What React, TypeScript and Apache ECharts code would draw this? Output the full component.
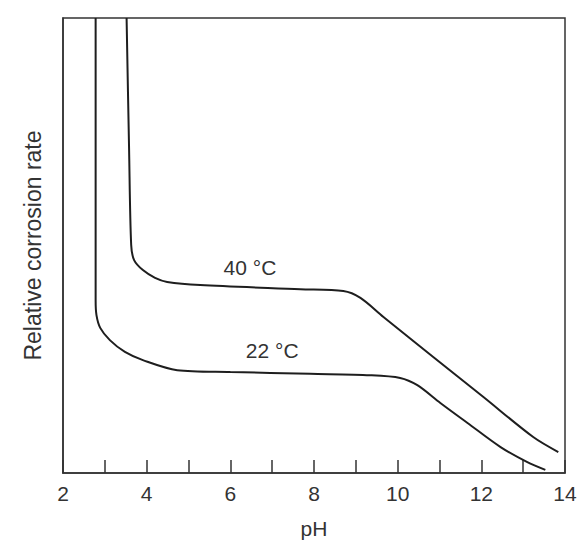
import React, { useEffect, useRef } from "react";
import * as echarts from "echarts";

// pH values and relative corrosion rate (arbitrary units 0-100)
const ph22 = [2.78, 2.78, 2.8, 2.89, 3.12, 3.48, 3.91, 4.73, 6.0, 7.91, 9.34, 10.06, 10.47, 11.02, 11.67, 12.46, 13.1, 13.53];
const rate22 = [100, 38.0, 34.7, 31.9, 29.2, 26.6, 24.8, 22.6, 22.2, 21.8, 21.5, 20.9, 19.3, 15.4, 11.0, 5.7, 2.4, 0.7];

const ph40 = [3.52, 3.58, 3.63, 3.7, 3.91, 4.2, 4.49, 5.28, 7.67, 8.7, 9.11, 9.66, 10.85, 12.05, 13.24, 13.84];
const rate40 = [100, 71.0, 50.1, 46.8, 44.6, 42.9, 42.0, 41.3, 40.4, 40.0, 38.5, 34.3, 25.5, 16.7, 7.9, 4.6];

const seriesNames = ["22 °C", "40 °C"];
const labelPos22 = [7.0, 27.0];
const labelPos40 = [6.47, 45.1];

const xTickLabels = ["2", "4", "6", "8", "10", "12", "14"];

const FONT = "Liberation Sans, Arial, Helvetica, sans-serif";
const INK = "#1e1e1e";

export default function App() {
  const ref = useRef<HTMLDivElement>(null);
  useEffect(() => {
    if (!ref.current) return;
    const chart = echarts.init(ref.current, undefined, { renderer: "svg" });
    const zip = (xs: number[], ys: number[]) => xs.map((x, i) => [x, ys[i]]);
    const mk = (name: string, xs: number[], ys: number[], pos: number[]) => ({
      name,
      type: "line",
      data: zip(xs, ys),
      showSymbol: false,
      smooth: 0.3,
      lineStyle: { color: INK, width: 2 },
      markPoint: {
        symbol: "circle",
        symbolSize: 0,
        label: {
          show: true,
          position: "inside",
          formatter: name,
          color: "#333",
          fontSize: 21,
          fontFamily: FONT,
        },
        data: [{ coord: pos }],
      },
    });
    chart.setOption({
      animation: false,
      backgroundColor: "#ffffff",
      grid: {
        left: 63,
        right: 20,
        top: 18,
        bottom: 76,
        show: true,
        borderColor: "#333",
        borderWidth: 1.5,
      },
      xAxis: {
        type: "value",
        min: 2,
        max: 14,
        interval: 1,
        name: "pH",
        nameLocation: "middle",
        nameGap: 45,
        nameTextStyle: { fontSize: 21, color: "#333", fontFamily: FONT },
        axisLine: { show: true, lineStyle: { color: "#333", width: 1.5 } },
        axisTick: { show: true, inside: true, length: 13, lineStyle: { color: "#333", width: 1.5 } },
        axisLabel: {
          show: true,
          margin: 10,
          fontSize: 21,
          color: "#333",
          fontFamily: FONT,
          showMinLabel: true,
          showMaxLabel: true,
          formatter: (v: number) => {
            const s = String(Math.round(v));
            return xTickLabels.includes(s) ? s : "";
          },
        },
        splitLine: { show: false },
      },
      yAxis: {
        type: "value",
        min: 0,
        max: 100,
        name: "Relative corrosion rate",
        nameLocation: "middle",
        nameGap: 19,
        nameTextStyle: { fontSize: 23, color: "#333", fontFamily: FONT },
        axisLine: { show: true, lineStyle: { color: "#333", width: 1.5 } },
        axisTick: { show: false },
        axisLabel: { show: false },
        splitLine: { show: false },
      },
      series: [
        mk(seriesNames[0], ph22, rate22, labelPos22),
        mk(seriesNames[1], ph40, rate40, labelPos40),
      ],
    });
    return () => chart.dispose();
  }, []);
  return (
    <div
      ref={ref}
      style={{ position: "absolute", left: 0, top: 0, width: 585, height: 549 }}
    />
  );
}
